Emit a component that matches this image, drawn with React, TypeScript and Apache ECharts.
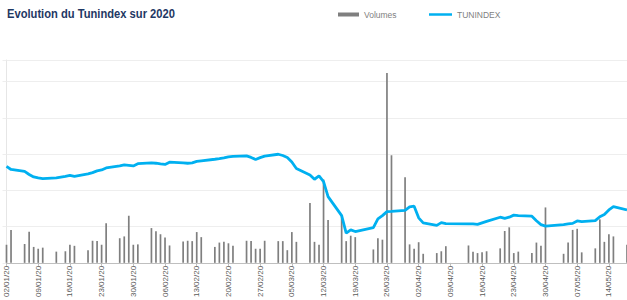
import React, { useEffect, useRef } from "react";
import * as echarts from "echarts";

const titleText = "Evolution du Tunindex sur 2020";

const dates = [
  "02/01/20", "03/01/20", "06/01/20", "07/01/20", "08/01/20", "09/01/20", "10/01/20", "13/01/20", "15/01/20", "16/01/20", "17/01/20",
  "20/01/20", "21/01/20", "22/01/20", "23/01/20", "24/01/20", "27/01/20", "28/01/20", "29/01/20", "30/01/20", "31/01/20",
  "03/02/20", "04/02/20", "05/02/20", "06/02/20", "07/02/20", "10/02/20", "11/02/20", "12/02/20", "13/02/20", "14/02/20",
  "17/02/20", "18/02/20", "19/02/20", "20/02/20", "21/02/20", "24/02/20", "25/02/20", "26/02/20", "27/02/20", "28/02/20",
  "02/03/20", "03/03/20", "04/03/20", "05/03/20", "06/03/20", "09/03/20", "10/03/20", "11/03/20", "12/03/20", "13/03/20",
  "16/03/20", "17/03/20", "18/03/20", "19/03/20", "23/03/20", "24/03/20", "25/03/20", "26/03/20", "27/03/20", "30/03/20", "31/03/20",
  "01/04/20", "02/04/20", "03/04/20", "06/04/20", "07/04/20", "08/04/20", "13/04/20", "14/04/20", "15/04/20", "16/04/20", "17/04/20",
  "20/04/20", "21/04/20", "22/04/20", "23/04/20", "24/04/20", "27/04/20", "28/04/20", "29/04/20", "30/04/20",
  "04/05/20", "05/05/20", "06/05/20", "07/05/20", "08/05/20", "11/05/20", "12/05/20", "13/05/20", "14/05/20", "15/05/20", "18/05/20",
];

// Volumes (MDT)
const volumes = [
  5.0, 9.1, 5.2, 8.6, 4.4, 3.9, 4.2, 3.1, 3.2, 5.0, 4.7, 3.5, 6.1, 6.0, 5.0, 10.9, 6.8, 7.3, 13.0, 5.0, 5.1,
  9.6, 8.7, 7.9, 7.0, 4.8, 5.9, 6.1, 6.0, 8.5, 7.1, 4.4, 5.6, 5.8, 5.4, 4.7, 6.1, 6.0, 3.9, 3.9, 6.1,
  6.0, 6.0, 3.5, 8.5, 5.8, 16.5, 5.8, 5.0, 23.0, 11.8, 12.9, 6.0, 7.5, 7.1, 3.7, 6.8, 6.4, 52.4, 29.7, 23.6, 5.1,
  3.9, 5.7, 2.5, 2.7, 3.2, 4.6, 4.8, 3.1, 2.7, 2.9, 3.2, 4.0, 8.8, 9.8, 2.7, 3.1, 2.7, 5.6, 4.7, 15.3,
  2.5, 5.6, 9.1, 9.4, 2.9, 4.0, 12.0, 5.8, 7.9, 7.3, 5.0,
];

// TUNINDEX closing values
const tunindex = [
  7131, 7089, 7062, 7020, 6986, 6972, 6962, 6972, 6993, 7007, 6993, 7027, 7045, 7069, 7082, 7110, 7138, 7151, 7145, 7138, 7169,
  7179, 7175, 7165, 7158, 7189, 7179, 7175, 7179, 7200, 7209, 7230, 7238, 7248, 7262, 7269, 7276, 7255, 7227, 7252, 7273,
  7299, 7282, 7255, 7193, 7103, 7014, 6954, 7000, 6921, 6714, 6452, 6210, 6255, 6232, 6287, 6407, 6452, 6507, 6510, 6524, 6572,
  6582, 6421, 6352, 6317, 6356, 6342, 6338, 6338, 6331, 6352, 6372, 6430, 6414, 6430, 6459, 6452, 6444, 6382, 6328, 6307,
  6328, 6338, 6345, 6379, 6368, 6383, 6437, 6469, 6531, 6576, 6531,
];

const seriesNames = ["Volumes", "TUNINDEX"];

function parseDate(s: string): Date {
  const [d, m, y] = s.split("/").map(Number);
  return new Date(Date.UTC(2000 + y, m - 1, d));
}
function fmt(dt: Date): string {
  const p = (n: number) => String(n).padStart(2, "0");
  return `${p(dt.getUTCDate())}/${p(dt.getUTCMonth() + 1)}/${p(dt.getUTCFullYear() % 100)}`;
}
function buildCalendar(first: string, last: string): string[] {
  const out: string[] = [];
  const end = parseDate(last).getTime();
  for (let t = parseDate(first).getTime(); t <= end; t += 86400000) out.push(fmt(new Date(t)));
  return out;
}

export default function App() {
  const ref = useRef<HTMLDivElement>(null);
  useEffect(() => {
    if (!ref.current) return;
    const chart = echarts.init(ref.current, undefined, { renderer: "svg" });
    const calendar = buildCalendar(dates[0], dates[dates.length - 1]);
    const volMap = new Map<string, number>();
    const idxMap = new Map<string, number>();
    dates.forEach((d, i) => {
      volMap.set(d, volumes[i]);
      idxMap.set(d, tunindex[i]);
    });
    const volData = calendar.map((d) => (volMap.has(d) ? volMap.get(d)! : null));
    const idxData = calendar.map((d) => (idxMap.has(d) ? idxMap.get(d)! : null));

    const legendText = { fontSize: 8.5, color: "#7f7f7f", fontFamily: "Liberation Sans, Arial, sans-serif" };

    chart.setOption({
      animation: false,
      backgroundColor: "#ffffff",
      graphic: [
        {
          type: "text",
          x: 7,
          y: 7,
          scaleX: 0.86,
          style: {
            text: titleText,
            font: 'bold 13px "Liberation Sans", Arial, sans-serif',
            fill: "#1F3864",
            verticalAlign: "top",
          },
        },
      ],
      legend: [
        {
          data: [{ name: seriesNames[0], icon: "rect" }],
          left: 333,
          top: 5,
          itemWidth: 21,
          itemHeight: 4,
          textStyle: legendText,
          selectedMode: false,
        },
        {
          data: [{ name: seriesNames[1], icon: "rect" }],
          left: 424,
          top: 5,
          itemWidth: 23,
          itemHeight: 2.5,
          textStyle: legendText,
          selectedMode: false,
        },
      ],
      grid: { left: 6.5, right: -0.6, top: 60, bottom: 37, containLabel: false },
      xAxis: {
        type: "category",
        data: calendar,
        boundaryGap: false,
        axisLine: { show: true, lineStyle: { color: "#bfbfbf", width: 1 } },
        axisTick: { show: true, interval: 6, length: 3, lineStyle: { color: "#bfbfbf" } },
        axisLabel: {
          interval: 6,
          rotate: 90,
          fontSize: 8,
          color: "#595959",
          margin: 3,
          fontFamily: "Liberation Sans, Arial, sans-serif",
        },
        splitLine: { show: false },
      },
      yAxis: [
        {
          type: "value",
          min: 0,
          max: 56,
          interval: 10,
          axisLabel: { show: false },
          axisLine: { show: true, lineStyle: { color: "#e6e6e6" } },
          axisTick: { show: true, length: 4, lineStyle: { color: "#eeeeee" } },
          splitLine: { show: true, lineStyle: { color: "#eeeeee", width: 1 } },
        },
        {
          type: "value",
          min: 5800,
          max: 8600,
          show: false,
          splitLine: { show: false },
        },
      ],
      series: [
        {
          name: seriesNames[0],
          type: "bar",
          data: volData,
          yAxisIndex: 0,
          barWidth: 1.7,
          itemStyle: { color: "#7f7f7f" },
        },
        {
          name: seriesNames[1],
          type: "line",
          data: idxData,
          yAxisIndex: 1,
          connectNulls: true,
          showSymbol: false,
          symbol: "none",
          lineStyle: { color: "#00B0F0", width: 2.8 },
          itemStyle: { color: "#00B0F0" },
          z: 3,
        },
      ],
    });
    return () => chart.dispose();
  }, []);
  return <div ref={ref} style={{ position: "fixed", left: 0, top: 0, width: 627, height: 300 }} />;
}
